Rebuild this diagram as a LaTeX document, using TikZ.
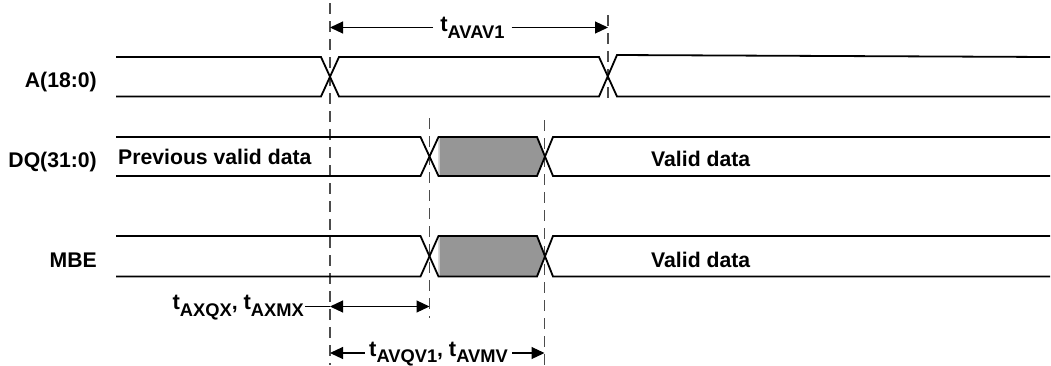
\documentclass[tikz,border=0pt]{standalone}
\usepackage{fontspec}
\setmainfont{Liberation Sans}
\usetikzlibrary{arrows.meta}
\newcommand{\tmsub}[1]{{\fontsize{22}{23}\selectfont t}\raisebox{-6.5pt}{\fontsize{18.3}{19}\selectfont #1}}
\begin{document}
\begin{tikzpicture}[x=1pt,y=-1pt,
  sig/.style={line width=1.8pt, line join=miter},
  guide/.style={draw=black!70, line width=1.4pt, dash pattern=on 11pt off 7pt},
  dim/.style={line width=1.1pt},
  tipr/.style={-{Triangle[length=13pt,width=12pt]}},
  tipb/.style={{Triangle[length=13pt,width=12pt]}-{Triangle[length=13pt,width=12pt]}},
  lbl/.style={font=\fontsize{21.2}{23}\selectfont\bfseries, inner sep=0pt},
  shade/.style={fill=black!41, draw=none},
]
\useasboundingbox (0,0) rectangle (1051,365);

% gray invalid regions
\fill[shade] (438.5,137) -- (537,137) -- (545,156.5) -- (537,176) -- (438.5,176) -- cycle;
\fill[shade] (438.5,236) -- (537,236) -- (545,256.2) -- (537,276.5) -- (438.5,276.5) -- cycle;
\draw[black!20, line width=0.8pt] (439,137.8) -- (439,175.2);
\draw[black!20, line width=0.8pt] (439,236.8) -- (439,275.7);

% guide lines
\coordinate (g1t) at (330,3);   \coordinate (g1b) at (330,365);
\coordinate (g2t) at (608,15);  \coordinate (g2b) at (608,101);
\coordinate (g3t) at (429.5,118); \coordinate (g3b) at (429.5,318);
\coordinate (g4t) at (544.5,120); \coordinate (g4b) at (544.5,365);
\draw[guide] (g1t) -- (g1b);
\draw[guide] (g2t) -- (g2b);
\draw[guide] (g3t) -- (g3b);
\draw[guide] (g4t) -- (g4b);

% A(18:0)
\draw[sig] (116,57) -- (321,57) -- (339,96.5) -- (599,96.5) -- (617,55) -- (1050,57);
\draw[sig] (116,96.5) -- (321,96.5) -- (339,57) -- (599,57) -- (617,96.5) -- (1050,96.5);

% DQ(31:0)
\draw[sig] (116,137) -- (420.5,137) -- (438.5,176) -- (537,176) -- (553,137) -- (1050,137);
\draw[sig] (116,176) -- (420.5,176) -- (438.5,137) -- (537,137) -- (553,176) -- (1050,176);

% MBE
\draw[sig] (116,236) -- (420.5,236) -- (438.5,276.5) -- (537,276.5) -- (553,236) -- (1050,236);
\draw[sig] (116,276.5) -- (420.5,276.5) -- (438.5,236) -- (537,236) -- (553,276.5) -- (1050,276.5);

% signal names
\node[lbl, anchor=base east] (nA) at (97,87.3) {A(18:0)};
\node[lbl, anchor=base east] (nDQ) at (97,167) {DQ(31:0)};
\node[lbl, anchor=base east] (nMBE) at (97,267.3) {MBE};

% data labels
\node[lbl, anchor=base west] (prev) at (118,164.5) {Previous valid data};
\node[lbl, anchor=base west] (vd1) at (651,166) {Valid data};
\node[lbl, anchor=base west] (vd2) at (651,267.5) {Valid data};

% tAVAV1
\coordinate (a1l) at (330,27.5);
\coordinate (a1r) at (608,27.5);
\node[lbl, anchor=base, inner xsep=7pt] (tavav) at (472.4,31.7) {\tmsub{AVAV1}};
\draw[dim, tipr] (tavav.west |- a1l) -- (a1l);
\draw[dim, tipr] (tavav.east |- a1r) -- (a1r);

% tAXQX, tAXMX
\coordinate (a2l) at (330,306.5);
\coordinate (a2r) at (429.5,306.5);
\node[lbl, anchor=base east, inner xsep=1pt] (taxqx) at (305,309.5) {\tmsub{AXQX}, \tmsub{AXMX}};
\draw[dim] (taxqx.east |- a2l) -- (a2l);
\draw[dim, tipb] (a2l) -- (a2r);

% tAVQV1, tAVMV
\coordinate (a3l) at (330,353);
\coordinate (a3r) at (544.5,353);
\node[lbl, anchor=base, inner xsep=4pt] (tavqv) at (438.5,356) {\tmsub{AVQV1}, \tmsub{AVMV}};
\draw[dim, tipr] (tavqv.west |- a3l) -- (a3l);
\draw[dim, tipr] (tavqv.east |- a3r) -- (a3r);
\end{tikzpicture}
\end{document}
